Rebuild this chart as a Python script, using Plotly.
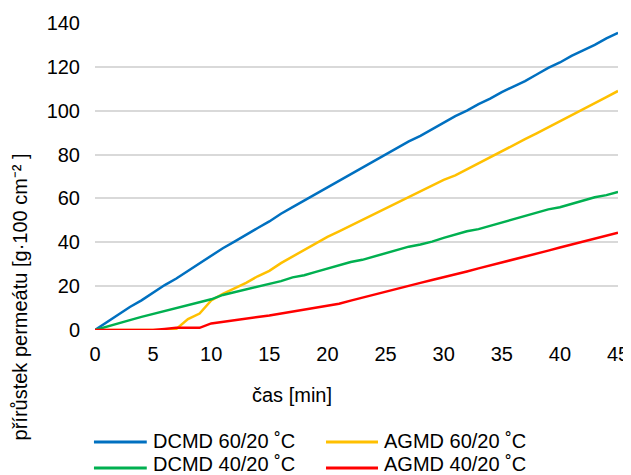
import plotly.graph_objects as go

time_min = list(range(0, 46))

dcmd_60 = [0, 3.5, 7, 10.5, 13.5, 17, 20.5, 23.5, 27, 30.5, 34, 37.3, 40.3, 43.5, 46.5, 49.5,
           53, 56, 59, 62, 65, 68, 71, 74, 76.8, 80, 83, 86, 88.5, 91.5, 94.5, 97.5, 100,
           103, 105.5, 108.5, 111, 113.5, 116.5, 119.5, 122, 125, 127.5, 130, 133, 135.5]

agmd_60 = [0, 0, 0, 0, 0, 0, 0, 0.5, 5, 7.5, 13.5, 16.5, 19, 21.5, 24.5, 27, 30.5, 33.5,
           36.5, 39.5, 42.5, 45, 47.6, 50.2, 52.8, 55.4, 58, 60.6, 63.2, 65.8, 68.5, 70.5,
           73.3, 76, 78.8, 81.5, 84.2, 87, 89.7, 92.4, 95.2, 98, 100.7, 103.4, 106.2, 109]

dcmd_40 = [0, 1.6, 3, 4.5, 6, 7.3, 8.7, 10, 11.5, 12.8, 14, 16, 17.3, 18.3, 19.8, 21, 22.3,
           24, 25, 26.5, 28, 29.5, 31, 32, 33.5, 35, 36.5, 38, 39, 40.3, 42, 43.5, 45, 46,
           47.5, 49, 50.5, 52, 53.5, 55, 56, 57.5, 59, 60.5, 61.5, 63]

agmd_40 = [0, 0, 0, 0, 0, 0, 0.5, 1, 1, 1, 3, 3.8, 4.5, 5.2, 5.9, 6.6, 7.5, 8.3, 9.2, 10,
           10.8, 12, 13.4, 14.8, 16.2, 17.5, 18.8, 20.2, 21.5, 22.8, 24, 25.4, 26.7, 28.1,
           29.4, 30.8, 32.2, 33.5, 34.9, 36.2, 37.6, 39, 40.3, 41.7, 43, 44.4]

series_names = ["DCMD 60/20 ˚C", "AGMD 60/20 ˚C", "DCMD 40/20 ˚C", "AGMD 40/20 ˚C"]
series_values = [dcmd_60, agmd_60, dcmd_40, agmd_40]
colors = ["#0070C0", "#FFC000", "#00B050", "#FF0000"]

x_ticks = [0, 5, 10, 15, 20, 25, 30, 35, 40, 45]
y_ticks = [0, 20, 40, 60, 80, 100, 120, 140]

FONT = "Liberation Sans, Arial, sans-serif"
FS = 20

fig = go.Figure()
for name, vals, col in zip(series_names, series_values, colors):
    fig.add_trace(go.Scatter(x=time_min, y=vals, mode="lines", name=name,
                             line=dict(color=col, width=2.5), showlegend=False))

# manual legend (2 columns x 2 rows), in paper coordinates
leg_cols = [(-0.002, 0.099, 0.107), (0.4417, 0.5411, 0.5488)]
leg_line_rows = [-0.3648, -0.4495]
leg_text_rows = [-0.3616, -0.4365]
shapes = []
annotations = []
for i, (name, col) in enumerate(zip(series_names, colors)):
    c = leg_cols[i % 2]
    rl = leg_line_rows[i // 2]
    rt = leg_text_rows[i // 2]
    shapes.append(dict(type="line", xref="paper", yref="paper", x0=c[0], x1=c[1],
                       y0=rl, y1=rl, line=dict(color=col, width=3)))
    annotations.append(dict(text=name, xref="paper", yref="paper", x=c[2], y=rt,
                            xanchor="left", yanchor="middle", showarrow=False,
                            font=dict(family=FONT, size=FS, color="#000000")))

annotations += [
    dict(text="čas [min]", xref="paper", yref="paper", x=0.377, y=-0.212,
         xanchor="center", yanchor="middle", showarrow=False,
         font=dict(family=FONT, size=FS, color="#000000")),
    dict(text="přírůstek permeátu [g·100 cm⁻² ]", xref="paper", yref="paper",
         x=-0.1434, y=0.106, xanchor="center", yanchor="middle", textangle=-90,
         showarrow=False, font=dict(family=FONT, size=FS, color="#000000")),
]

fig.update_layout(
    width=623, height=467,
    margin=dict(l=87, r=13, t=15, b=145, autoexpand=False),
    paper_bgcolor="white", plot_bgcolor="white",
    font=dict(family=FONT, size=FS, color="#000000"),
    showlegend=False,
    xaxis=dict(range=[0, 45], tickvals=x_ticks, showgrid=False, zeroline=False,
               showline=False, ticks="", ticklabelstandoff=10,
               tickfont=dict(size=FS, color="#000000")),
    yaxis=dict(range=[0, 140], tickvals=y_ticks, showgrid=True, gridcolor="#D9D9D9",
               gridwidth=1.8, zeroline=False, showline=False, ticks="",
               ticklabelstandoff=14, tickfont=dict(size=FS, color="#000000")),
    shapes=shapes,
    annotations=annotations,
)

fig.write_html("out.html")
